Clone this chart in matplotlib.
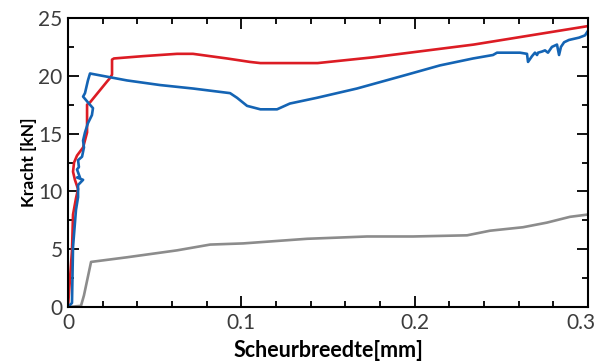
import matplotlib
matplotlib.use("Agg")
import matplotlib.pyplot as plt
import matplotlib.transforms as mtransforms
from matplotlib.ticker import MultipleLocator

# crack width [mm] vs force [kN]
red_x = [0, 0.0023, 0.0029, 0.0046, 0.0058, 0.0040, 0.0029, 0.0035, 0.0052, 0.0087,
         0.0110, 0.0110, 0.0127, 0.0225, 0.0242, 0.0254, 0.0254, 0.0265, 0.0433,
         0.0629, 0.0721, 0.0917, 0.105, 0.111, 0.128, 0.144, 0.176, 0.234, 0.3]
red_y = [0, 4.9, 8.0, 9.4, 10.2, 11.0, 11.7, 12.5, 13.1, 13.8,
         15.1, 17.5, 17.7, 19.5, 19.8, 20.1, 21.4, 21.5, 21.7,
         21.9, 21.9, 21.5, 21.2, 21.1, 21.1, 21.1, 21.6, 22.7, 24.3]

blue_x = [0, 0.0023, 0.0029, 0.0046, 0.0058, 0.0058, 0.0058, 0.0087, 0.0052, 0.0069,
          0.0052, 0.0063, 0.0058, 0.0081, 0.0092, 0.0087, 0.0098, 0.0115, 0.0138,
          0.0144, 0.0115, 0.0087, 0.0098, 0.0115, 0.0127, 0.034, 0.0531, 0.0721,
          0.0935, 0.0975, 0.1033, 0.111, 0.1206, 0.128, 0.1437, 0.1667, 0.1956,
          0.2146, 0.2337, 0.2452, 0.2475, 0.2608, 0.2648, 0.2654, 0.2677, 0.2694,
          0.2706, 0.2712, 0.2735, 0.2752, 0.2769, 0.2792, 0.2821, 0.2833, 0.2844,
          0.2862, 0.2890, 0.2948, 0.2983, 0.3]
blue_y = [0, 0.35, 5.2, 8.4, 9.5, 10.3, 10.55, 11.0, 11.2, 11.2,
          11.9, 12.1, 12.7, 13.0, 13.8, 14.4, 15.1, 15.9, 16.6,
          17.2, 17.7, 18.2, 18.5, 19.6, 20.2, 19.6, 19.2, 18.9,
          18.5, 18.1, 17.4, 17.1, 17.1, 17.6, 18.1, 18.9, 20.1,
          20.9, 21.5, 21.8, 22.0, 22.0, 21.9, 21.2, 21.7, 22.0,
          21.8, 22.0, 22.1, 22.2, 22.0, 22.5, 22.7, 21.8, 22.5,
          22.9, 23.1, 23.3, 23.5, 23.9]

gray_x = [0, 0.0075, 0.0092, 0.0133, 0.034, 0.0629, 0.082, 0.101, 0.1379, 0.1725,
          0.199, 0.2302, 0.2435, 0.2625, 0.2763, 0.2896, 0.3]
gray_y = [0, 0.1, 1.0, 3.9, 4.3, 4.9, 5.4, 5.5, 5.9, 6.1,
          6.1, 6.2, 6.6, 6.9, 7.3, 7.8, 8.0]

x_ticks = [0, 0.1, 0.2, 0.3]
x_labels = ["0", "0.1", "0.2", "0.3"]
y_ticks = [0, 5, 10, 15, 20, 25]

plt.rcParams["font.family"] = ["Lato", "DejaVu Sans"]

fig = plt.figure(figsize=(5.96, 3.63), dpi=100)
ax = fig.add_axes([68 / 596, 56 / 363, 520 / 596, 289 / 363])

lw = 1.9
ax.plot(gray_x, gray_y, color="#8c8c8c", lw=lw)
ax.plot(red_x, red_y, color="#dc1c24", lw=lw)
ax.plot(blue_x, blue_y, color="#1464b4", lw=lw)

ax.set_xlim(0, 0.3)
ax.set_ylim(0, 25)
ax.set_xticks(x_ticks)
ax.set_xticklabels(x_labels)
ax.set_yticks(y_ticks)
ax.xaxis.set_minor_locator(MultipleLocator(0.02))
ax.yaxis.set_minor_locator(MultipleLocator(2.5))

ax.tick_params(which="both", direction="in", top=True, right=True,
               colors="black", width=1.3)
ax.tick_params(which="major", length=8, labelsize=15, labelcolor="#3c3c3c", pad=4)
ax.tick_params(which="minor", length=4.5)

# the last x label sits a little left of its tick in the reference
last = ax.get_xticklabels()[-1]
last.set_transform(last.get_transform() +
                   mtransforms.ScaledTranslation(-7 / 100, 0, fig.dpi_scale_trans))

for s in ax.spines.values():
    s.set_linewidth(1.5)

ax.set_xlabel("Scheurbreedte[mm]", fontsize=15.5, fontweight="bold")
ax.set_ylabel("Kracht [kN]", fontsize=12.5, fontweight="bold")
ax.xaxis.set_label_coords(0.5, -0.115)
ax.yaxis.set_label_coords(-0.06, 0.5)

fig.savefig("out.png", dpi=100)
